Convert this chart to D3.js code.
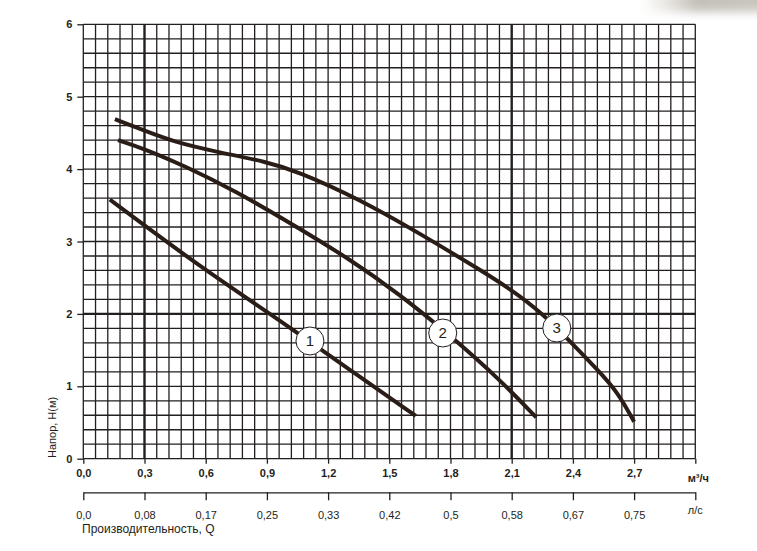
<!DOCTYPE html>
<html><head><meta charset="utf-8">
<script src="https://cdn.jsdelivr.net/npm/d3@7"></script>
<style>body{margin:0;background:#fff}svg{display:block}</style>
</head><body>
<svg id="c" width="757" height="551"></svg>
<script>
// ---- data ----
const flowTicksM3h = [0, 0.3, 0.6, 0.9, 1.2, 1.5, 1.8, 2.1, 2.4, 2.7];
const flowLabelsM3h = ["0,0","0,3","0,6","0,9","1,2","1,5","1,8","2,1","2,4","2,7"];
const flowLabelsLs = ["0,0","0,08","0,17","0,25","0,33","0,42","0,5","0,58","0,67","0,75"];
const headTicks = [0, 1, 2, 3, 4, 5, 6];

const curve1Q = [0.13, 0.30, 0.60, 1.00, 1.30, 1.63];
const curve1H = [3.58, 3.22, 2.60, 1.84, 1.24, 0.59];
const curve2Q = [0.17, 0.30, 0.50, 0.75, 1.00, 1.30, 1.55, 1.80, 2.05, 2.22];
const curve2H = [4.40, 4.28, 4.04, 3.69, 3.28, 2.77, 2.27, 1.70, 1.07, 0.57];
const curve3Q = [0.155, 0.30, 0.45, 0.65, 0.90, 1.05, 1.35, 1.65, 1.95, 2.10, 2.25, 2.40, 2.52, 2.62, 2.70];
const curve3H = [4.69, 4.53, 4.37, 4.24, 4.10, 3.97, 3.59, 3.11, 2.60, 2.33, 2.01, 1.58, 1.23, 0.92, 0.51];

const labelNames = ["1", "2", "3"];
const labelQ = [1.111, 1.762, 2.321];
const labelH = [1.626, 1.736, 1.805];

// ---- drawing ----
const svg = d3.select("#c");
const x = d3.scaleLinear().domain([0, 3]).range([83.3, 695.3]);
const y = d3.scaleLinear().domain([0, 6]).range([458.7, 24.3]);
const ink = "#231f20";
const font = "'Liberation Sans', Arial, sans-serif";

// page-curl shadow top right
const defs = svg.append("defs");
const f = defs.append("filter").attr("id","blur").attr("x","-50%").attr("y","-50%").attr("width","200%").attr("height","200%");
f.append("feGaussianBlur").attr("stdDeviation", 5);
const lg = defs.append("linearGradient").attr("id","sh").attr("x1","0").attr("x2","1");
lg.append("stop").attr("offset","0").attr("stop-color","#d8d4ce").attr("stop-opacity",0);
lg.append("stop").attr("offset","0.4").attr("stop-color","#c4c0b9");
lg.append("stop").attr("offset","1").attr("stop-color","#ccc8c2");
svg.append("rect").attr("x",640).attr("y",-12).attr("width",140).attr("height",24)
  .attr("rx",12).attr("fill","url(#sh)").attr("filter","url(#blur)");

const grid = svg.append("g");
const vx = d3.range(0, 51).map(i => +(i * 0.06).toFixed(2));
const hy = d3.range(0, 31).map(i => +(i * 0.2).toFixed(1));
grid.selectAll("line.v").data(vx).join("line")
  .attr("x1", d => x(d)).attr("x2", d => x(d))
  .attr("y1", y(6)).attr("y2", y(0))
  .attr("stroke", ink).attr("stroke-width", d => (Math.abs(d-0.3)<1e-6 || Math.abs(d-2.1)<1e-6) ? 2.4 : 1.3);
grid.selectAll("line.h").data(hy).join("line")
  .attr("x1", x(0)).attr("x2", x(3))
  .attr("y1", d => y(d)).attr("y2", d => y(d))
  .attr("stroke", ink).attr("stroke-width", d => Math.abs(d-2)<1e-6 ? 2.4 : 1.3);

// y axis
const ya = svg.append("g").attr("transform", `translate(${x(0)},0)`)
  .call(d3.axisLeft(y).tickValues(headTicks).tickSize(6).tickPadding(5).tickFormat(d3.format("d")));
ya.select(".domain").remove();
ya.selectAll("line").attr("stroke", ink).attr("stroke-width", 1.3);
ya.selectAll("text").attr("font-family", font).attr("font-size", 11).attr("font-weight", "bold").attr("fill", ink);

// x axis m3/h
const xa = svg.append("g").attr("transform", `translate(0,${y(0)})`)
  .call(d3.axisBottom(x).tickValues(flowTicksM3h.concat([3])).tickSize(5).tickPadding(6)
    .tickFormat((d, i) => i < flowLabelsM3h.length ? flowLabelsM3h[i] : ""));
xa.select(".domain").remove();
xa.selectAll("line").attr("stroke", ink).attr("stroke-width", 1.3);
xa.selectAll("text").attr("font-family", font).attr("font-size", 11).attr("font-weight", "bold").attr("fill", ink);
svg.append("text").attr("x", x(3) + 3).attr("y", 482).attr("text-anchor", "middle")
  .attr("font-family", font).attr("font-size", 11).attr("font-weight", "bold").attr("fill", ink).text("м³/ч");

// x axis l/s
const xb = svg.append("g").attr("transform", `translate(0,492.3)`)
  .call(d3.axisBottom(x).tickValues(flowTicksM3h.concat([3])).tickSize(8).tickSizeOuter(0).tickPadding(11)
    .tickFormat((d, i) => i < flowLabelsLs.length ? flowLabelsLs[i] : ""));
xb.select(".domain").attr("stroke", ink).attr("stroke-width", 1.3);
xb.selectAll("line").attr("stroke", ink).attr("stroke-width", 1.3);
xb.selectAll("text").attr("font-family", font).attr("font-size", 11).attr("fill", ink);
svg.append("text").attr("x", x(3)).attr("y", 514).attr("text-anchor", "middle")
  .attr("font-family", font).attr("font-size", 11).attr("fill", ink).text("л/с");

svg.append("text").attr("x", 82).attr("y", 533)
  .attr("font-family", font).attr("font-size", 12).attr("fill", ink).text("Производительность, Q");
svg.append("text").attr("transform", "translate(56,458) rotate(-90)")
  .attr("font-family", font).attr("font-size", 11).attr("fill", ink).text("Напор, H(м)");

// curves
const line = d3.line().x(d => x(d[0])).y(d => y(d[1])).curve(d3.curveBasis);
[[curve1Q, curve1H], [curve2Q, curve2H], [curve3Q, curve3H]].forEach(([q, h]) => {
  svg.append("path").datum(q.map((v, i) => [v, h[i]]))
    .attr("d", line).attr("fill", "none").attr("stroke", "#2a1d18")
    .attr("stroke-width", 4).attr("stroke-linecap", "butt");
});

// curve labels
const lab = svg.selectAll("g.lab").data(labelNames).join("g")
  .attr("transform", (d, i) => `translate(${x(labelQ[i])},${y(labelH[i])})`);
lab.append("circle").attr("r", 14).attr("fill", "#fff").attr("stroke", ink).attr("stroke-width", 1);
lab.append("text").attr("text-anchor", "middle").attr("dy", "0.36em")
  .attr("font-family", font).attr("font-size", 15).attr("fill", ink).text(d => d);
</script>
</body></html>
